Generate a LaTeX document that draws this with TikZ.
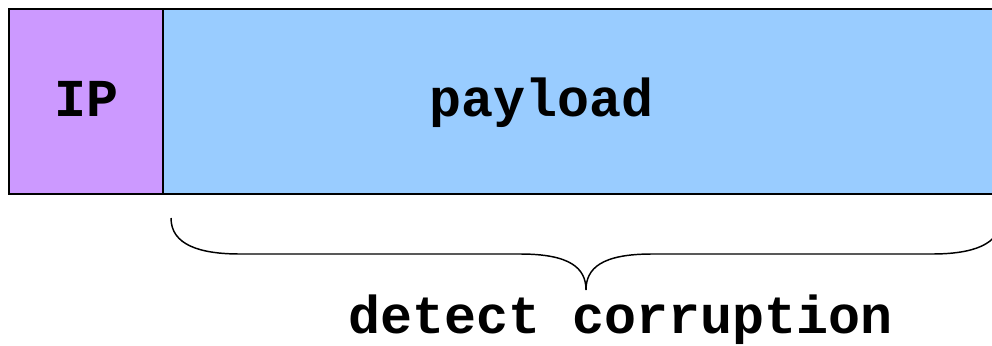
\documentclass[tikz,border=0pt]{standalone}
\usepackage{fontspec}
\setmonofont{Liberation Mono}
\begin{document}
\begin{tikzpicture}[x=0.75pt,y=-0.75pt,
  boxlbl/.style={font=\ttfamily\bfseries\fontsize{40}{48}\selectfont, anchor=base, inner sep=0pt},
  cell/.style={draw=black, line width=1.1pt}]
\useasboundingbox (0,0) rectangle (992,346);
\begin{scope}
\clip (0,0) rectangle (992,346);
\filldraw[cell, fill={rgb,255:red,204;green,153;blue,255}] (9,9) rectangle (163,194);
\filldraw[cell, fill={rgb,255:red,153;green,204;blue,255}] (163,9) rectangle (1010,194);
\coordinate (bl) at (171,218);
\coordinate (bt) at (586,290);
\coordinate (br) at (1001,218);
\draw[line width=1.1pt] (bl) .. controls (171,245) and (200,254) .. (240,254) -- (520,254)
  .. controls (570,254) and (586,268) .. (bt)
  .. controls (586,268) and (602,254) .. (652,254) -- (932,254)
  .. controls (972,254) and (1001,245) .. (br);
\end{scope}
\node[boxlbl] (ip) at (87,116) {IP};
\node[boxlbl] (pl) at (542,116) {payload};
\node[boxlbl] (dc) at (621,333) {detect corruption};
\end{tikzpicture}
\end{document}
